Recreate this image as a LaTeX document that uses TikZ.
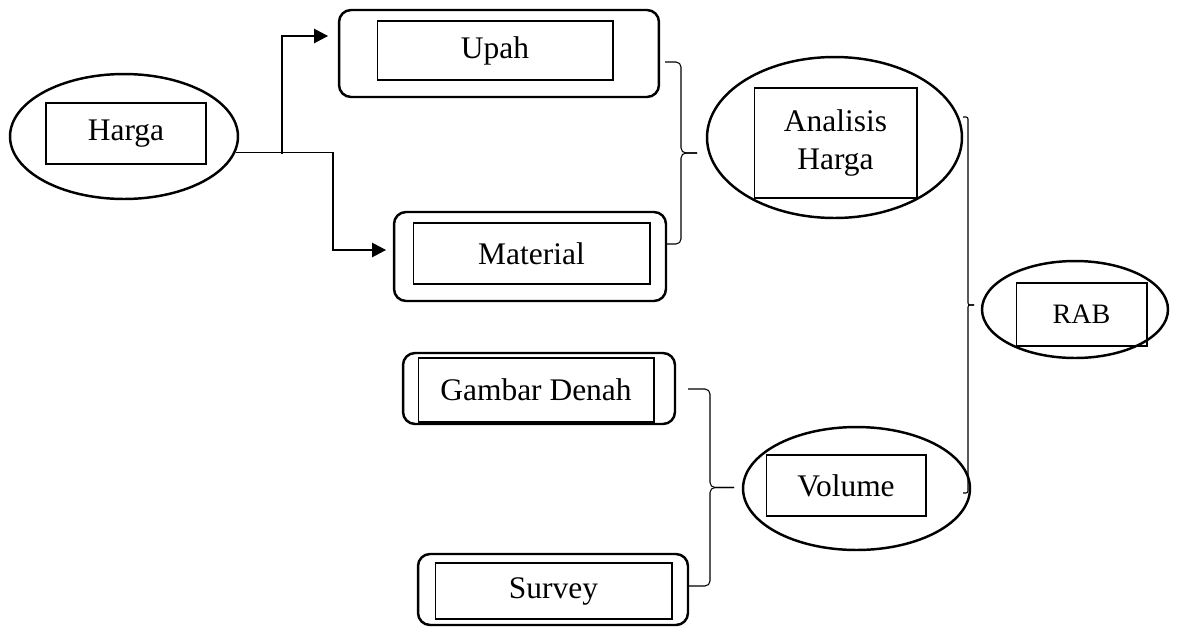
\documentclass[tikz,border=0pt]{standalone}
\usepackage{fontspec}
\setmainfont{Liberation Serif}
\usetikzlibrary{shapes.geometric,arrows.meta}
\begin{document}
\begin{tikzpicture}[x=0.02cm, y=-0.02cm,
        every node/.style={font=\fontsize{17.9}{22}\selectfont, inner sep=0pt},
        oval/.style={ellipse, draw, line width=1.4pt},
        card/.style={rectangle, draw, rounded corners=0.24cm, line width=1.4pt},
        box/.style={rectangle, draw, line width=0.6pt, align=center},
        link/.style={line width=0.7pt, -{Triangle[length=0.28cm, width=0.29cm]}},
        bracket/.style={line width=0.6pt, rounded corners=0.1cm}]
    \useasboundingbox (0, 0) rectangle (1179, 626);

    \node[oval, minimum width=4.56cm, minimum height=2.5cm] (hargaO) at (124, 136.5) {};
    \node[box, minimum width=3.2cm, minimum height=1.22cm] (harga) at (126, 133.5) {Harga};

    \node[card, minimum width=6.4cm, minimum height=1.74cm] (upahO) at (499, 53.5) {};
    \node[box, minimum width=4.72cm, minimum height=1.18cm] (upah) at (495, 50.5) {Upah};

    \node[card, minimum width=5.44cm, minimum height=1.78cm] (materialO) at (530, 256.5) {};
    \node[box, minimum width=4.74cm, minimum height=1.22cm] (material) at (531.5, 253.5) {Material};

    \node[oval, minimum width=5.1cm, minimum height=3.22cm] (analisisO) at (834.5, 137.5) {};
    \node[box, minimum width=3.26cm, minimum height=2.2cm] (analisis) at (835.5, 143) {Analisis\\Harga};

    \node[oval, minimum width=3.72cm, minimum height=1.94cm] (rabO) at (1075, 309.5) {};
    \node[box, minimum width=2.62cm, minimum height=1.26cm, font=\fontsize{16}{19}\selectfont] (rab) at (1081.5, 314.5) {RAB};

    \node[card, minimum width=5.44cm, minimum height=1.42cm] (denahO) at (539, 388.5) {};
    \node[box, minimum width=4.72cm, minimum height=1.28cm] (denah) at (536, 390) {Gambar Denah};

    \node[card, minimum width=5.4cm, minimum height=1.42cm] (surveyO) at (553, 589.5) {};
    \node[box, minimum width=4.74cm, minimum height=1.12cm] (survey) at (553.5, 591) {Survey};

    \node[oval, minimum width=4.54cm, minimum height=2.46cm] (volumeO) at (856.5, 488.5) {};
    \node[box, minimum width=3.2cm, minimum height=1.22cm] (volume) at (846, 485.5) {Volume};

    \coordinate (fork) at (282, 154);
    \coordinate (upahTip) at (328, 36);
    \coordinate (matTurn) at (333, 250);
    \coordinate (matTip) at (386, 250);
    \draw[link] (hargaO.-8.8) -| (matTurn) -- (matTip);
    \draw[link] (fork) |- (upahTip);

    \coordinate (priceTop) at (665, 62);
    \coordinate (priceBot) at (665, 244);
    \coordinate (priceTip) at (697, 153);
    \draw[bracket] (priceTop) -| ([xshift=-0.32cm]priceTip) -- (priceTip);
    \draw[bracket] (priceBot) -| ([xshift=-0.32cm]priceTip) -- (priceTip);

    \coordinate (sizeTop) at (688, 389);
    \coordinate (sizeBot) at (688, 586);
    \coordinate (sizeTip) at (734, 487.5);
    \draw[bracket] (sizeTop) -| ([xshift=-0.48cm]sizeTip) -- (sizeTip);
    \draw[bracket] (sizeBot) -| ([xshift=-0.48cm]sizeTip) -- (sizeTip);

    \coordinate (costTop) at (963, 117);
    \coordinate (costBot) at (963, 493);
    \coordinate (costTip) at (974, 305);
    \draw[bracket, rounded corners=0.04cm] (costTop) -| ([xshift=-0.12cm]costTip) -- (costTip);
    \draw[bracket, rounded corners=0.04cm] (costBot) -| ([xshift=-0.12cm]costTip) -- (costTip);
\end{tikzpicture}
\end{document}
